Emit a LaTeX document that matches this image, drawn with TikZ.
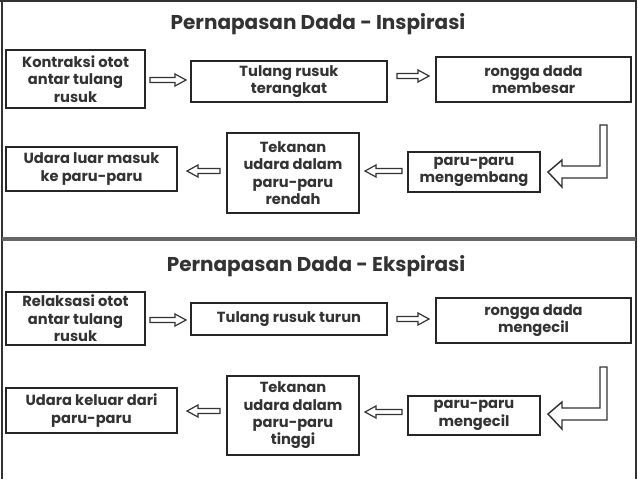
\documentclass[tikz,border=0pt]{standalone}
\usepackage{fontspec}
\setmainfont{Poppins}
\begin{document}
\begin{tikzpicture}[x=0.75pt,y=-0.75pt,
  box/.style={draw=black!85,line width=1.3pt,fill=white,align=center,inner sep=0pt,font=\bfseries\fontsize{11}{13}\selectfont,text=black!80},
  ttl/.style={font=\bfseries\fontsize{15}{18}\selectfont,text=black!80},
  hol/.style={draw=black!80,line width=0.9pt,fill=white}]
\useasboundingbox (0,0) rectangle (638,479);
\fill[white] (0,0) rectangle (638,479);
\draw[black!80,line width=1.3pt] (2,0) -- (2,479);
\draw[black!80,line width=1.3pt] (0,1) -- (636,1) -- (636,479);
\draw[black!60,line width=2.5pt] (2,239) -- (636,239);
\newcommand{\harrow}[3]{\draw[hol] (#1,#3-2.5) -- ({#2-(#2-#1)/abs(#2-#1)*11},#3-2.5) -- ({#2-(#2-#1)/abs(#2-#1)*11},#3-6) -- (#2,#3) -- ({#2-(#2-#1)/abs(#2-#1)*11},#3+6) -- ({#2-(#2-#1)/abs(#2-#1)*11},#3+2.5) -- (#1,#3+2.5) -- cycle;}
\newcommand{\larrow}[1]{\draw[hol,line width=1.1pt] (600,#1+125) -- (607,#1+125) -- (607,#1+178) -- (562,#1+178) -- (562,#1+187) -- (548,#1+172) -- (562,#1+160) -- (562,#1+166) -- (600,#1+166) -- cycle;}
% top
\node[ttl] (t1) at (318,24) {Pernapasan Dada - Inspirasi};
\node[box,minimum width=139*0.75,minimum height=58*0.75] (a1) at (75.5,79) {Kontraksi otot\\antar tulang\\rusuk};
\node[box,minimum width=196*0.75,minimum height=41*0.75] (a2) at (289,81.5) {Tulang rusuk\\terangkat};
\node[box,minimum width=195*0.75,minimum height=45*0.75] (a3) at (533.5,79.5) {rongga dada\\membesar};
\node[box,minimum width=132*0.75,minimum height=40*0.75] (b3) at (474,172) {paru-paru\\mengembang};
\node[box,minimum width=132*0.75,minimum height=80*0.75] (b2) at (293,173) {Tekanan\\udara dalam\\paru-paru\\rendah};
\node[box,minimum width=171*0.75,minimum height=44*0.75] (b1) at (91.5,169) {Udara luar masuk\\ke paru-paru};
\harrow{150}{186}{80}
\harrow{397}{429}{76}
\harrow{402}{365}{171}
\harrow{220}{187}{171}
\larrow{0}
% bottom
\node[ttl] (t2) at (316,266) {Pernapasan Dada - Ekspirasi};
\node[box,minimum width=139*0.75,minimum height=53*0.75] (c1) at (75.5,318.5) {Relaksasi otot\\antar tulang\\rusuk};
\node[box,minimum width=196*0.75,minimum height=32*0.75] (c2) at (289,319) {Tulang rusuk turun};
\node[box,minimum width=195*0.75,minimum height=45*0.75] (c3) at (533.5,320.5) {rongga dada\\mengecil};
\node[box,minimum width=132*0.75,minimum height=39*0.75] (d3) at (474,415.5) {paru-paru\\mengecil};
\node[box,minimum width=132*0.75,minimum height=79*0.75] (d2) at (293,415.5) {Tekanan\\udara dalam\\paru-paru\\tinggi};
\node[box,minimum width=171*0.75,minimum height=45*0.75] (d1) at (91.5,410.5) {Udara keluar dari\\paru-paru};
\harrow{150}{186}{320}
\harrow{397}{429}{319}
\harrow{402}{365}{412}
\harrow{220}{187}{411}
\larrow{242}
\end{tikzpicture}
\end{document}
